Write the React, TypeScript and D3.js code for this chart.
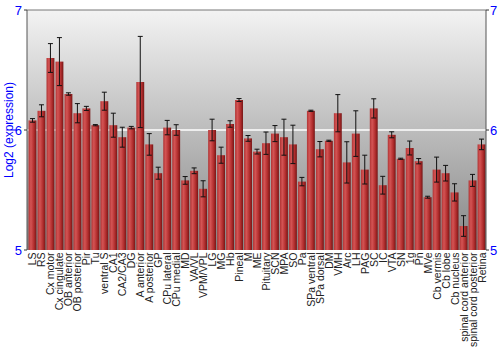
import React from "react";
import * as d3 from "d3";

const categories = ["LS","RS","Cx motor","Cx cingulate","OB anterior","OB posterior","Pir","Tu","ventral S","CA1","CA2/CA3","DG","A anterior","A posterior","GP","CPu lateral","CPu medial","MD","VA/VL","VPM/VPL","LG","MG","Hb","Pineal","M","ME","Pituitary","SCN","MPA","SO","Pa","SPa ventral","SPa dorsal","DM","VMH","Arc","LH","PAG","SC","IC","VTA","SN","1g","Pn","MVe","Cb vermis","Cb lobe","Cb nucleus","spinal cord anterior","spinal cord posterior","Retina"];
const values = [6.08,6.16,6.60,6.57,6.30,6.14,6.18,6.04,6.24,6.04,5.94,6.02,6.40,5.88,5.64,6.02,6.00,5.58,5.66,5.51,6.00,5.79,6.05,6.25,5.93,5.82,5.89,5.97,5.94,5.88,5.57,6.16,5.84,5.91,6.14,5.73,5.97,5.67,6.18,5.54,5.96,5.76,5.85,5.74,5.44,5.67,5.64,5.48,5.20,5.58,5.88];
const errors = [0.015,0.05,0.12,0.2,0.01,0.08,0.017,0.005,0.075,0.1,0.083,0.01,0.38,0.09,0.05,0.06,0.044,0.032,0.024,0.067,0.09,0.067,0.027,0.012,0.024,0.02,0.093,0.067,0.15,0.16,0.035,0.005,0.064,0.005,0.155,0.172,0.19,0.12,0.08,0.074,0.025,0.005,0.058,0.022,0.008,0.104,0.065,0.072,0.086,0.05,0.044];
const yTicks = [5, 6, 7];

export default function App() {
  const W = 500, H = 350;
  const left = 27, right = 486, top = 10, bottom = 250;
  const x = d3.scaleBand<string>().domain(categories).range([left + 1, right]).paddingInner(0.12).paddingOuter(0.06);
  const y = d3.scaleLinear().domain([5, 7]).range([bottom, top]);
  const bw = x.bandwidth();
  return (
    <svg width={W} height={H} style={{ position: "absolute", left: 0, top: 0 }} fontFamily="Liberation Sans, Arial, sans-serif">
      <defs>
        <linearGradient id="bg" x1="0" y1="0" x2="0" y2="1">
          <stop offset="0" stopColor="#f3f3f3" />
          <stop offset="1" stopColor="#868686" />
        </linearGradient>
        <linearGradient id="bar" x1="0" y1="0" x2="1" y2="0">
          <stop offset="0" stopColor="#b03434" />
          <stop offset="0.3" stopColor="#d45454" />
          <stop offset="0.7" stopColor="#b02c2c" />
          <stop offset="1" stopColor="#761616" />
        </linearGradient>
      </defs>
      <rect x={left} y={top} width={right - left} height={bottom - top} fill="url(#bg)" />
      <line x1={left} x2={right} y1={y(6)} y2={y(6)} stroke="#ffffff" strokeWidth={1.5} />
      {categories.map((c, i) => {
        const x0 = x(c)!;
        const cx = x0 + bw / 2;
        const v = values[i], e = errors[i];
        return (
          <g key={c}>
            <rect x={x0} y={y(v)} width={bw} height={bottom - y(v)} fill="url(#bar)" />
            <line x1={cx} x2={cx} y1={y(v + e)} y2={y(v - e)} stroke="#111" strokeWidth={1} />
            <line x1={cx - 2.5} x2={cx + 2.5} y1={y(v + e)} y2={y(v + e)} stroke="#111" strokeWidth={1} />
            <line x1={cx - 2.5} x2={cx + 2.5} y1={y(v - e)} y2={y(v - e)} stroke="#111" strokeWidth={1} />
            <text transform={`translate(${cx},${bottom + 2.5}) rotate(-90)`} textAnchor="end" dominantBaseline="central" fontSize={10.5} fill="#222">{c}</text>
          </g>
        );
      })}
      <line x1={left} x2={right} y1={top} y2={top} stroke="#777" strokeWidth={1} />
      <line x1={left} x2={left} y1={top} y2={bottom} stroke="#555" strokeWidth={1} />
      <line x1={right} x2={right} y1={top} y2={bottom} stroke="#555" strokeWidth={1} />
      {yTicks.map(t => (
        <g key={t}>
          <line x1={left - 3} x2={left} y1={y(t)} y2={y(t)} stroke="#333" />
          <line x1={right} x2={right + 3} y1={y(t)} y2={y(t)} stroke="#333" />
          <text x={left - 5} y={y(t)} textAnchor="end" dominantBaseline="central" fontSize={13} fill="#0000ff">{t}</text>
          <text x={right + 4} y={y(t)} textAnchor="start" dominantBaseline="central" fontSize={13} fill="#0000ff">{t}</text>
        </g>
      ))}
      <text transform={`translate(9,${(top + bottom) / 2}) rotate(-90)`} textAnchor="middle" dominantBaseline="central" fontSize={12} fill="#0000ff">Log2 (expression)</text>
    </svg>
  );
}
